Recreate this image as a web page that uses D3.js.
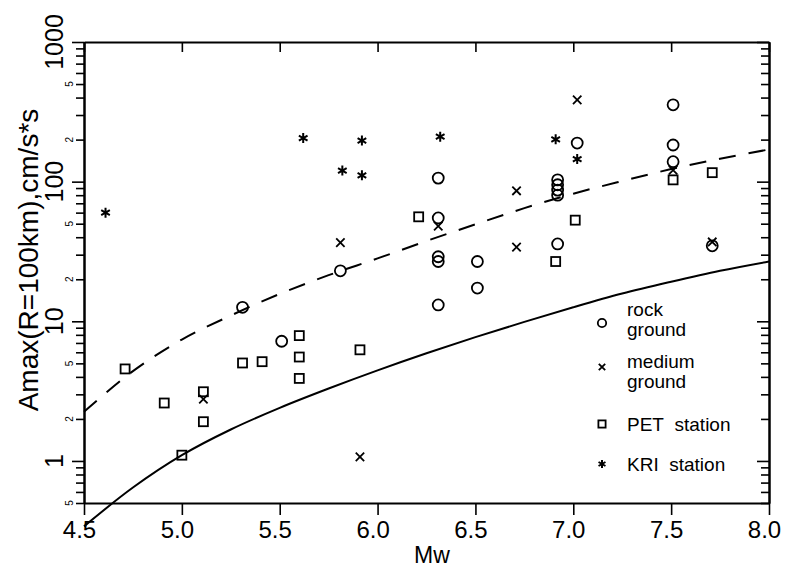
<!DOCTYPE html>
<html>
<head>
<meta charset="utf-8">
<script src="https://cdn.jsdelivr.net/npm/d3@7"></script>
<style>
  body { margin: 0; background: #fff; }
  text { font-family: "Liberation Sans", Arial, sans-serif; fill: #000; }
</style>
</head>
<body>
<div id="chart"></div>
<script>
const width = 786;
const height = 569;

// Data: [Mw, Amax]
const rockGround = [
  [5.31, 12.6], [5.51, 7.2], [5.81, 23], [6.31, 106], [6.31, 55], [6.31, 29], [6.31, 26.8],
  [6.31, 13.1], [6.51, 26.8], [6.51, 17.3], [6.92, 103], [6.92, 95], [6.92, 87], [6.92, 80],
  [6.92, 35.8], [7.02, 189], [7.51, 355], [7.51, 183], [7.51, 139], [7.71, 34.7]
];
const mediumGround = [
  [5.11, 2.77], [5.81, 36.6], [5.91, 1.07], [6.31, 48], [6.71, 86], [6.71, 34],
  [7.02, 385], [7.51, 121], [7.71, 37]
];
const petStation = [
  [4.71, 4.56], [4.91, 2.6], [5.0, 1.1], [5.11, 3.13], [5.11, 1.91], [5.31, 5.03],
  [5.41, 5.14], [5.6, 7.9], [5.6, 5.55], [5.6, 3.9], [5.91, 6.25], [6.21, 56],
  [6.91, 26.8], [7.01, 53], [7.51, 103], [7.71, 116]
];
const kriStation = [
  [4.61, 60], [5.62, 205], [5.82, 120], [5.92, 197], [5.92, 111], [6.32, 210],
  [6.91, 201], [7.02, 145]
];

// the two attenuation curves
const curveMw = [4.5, 4.75, 5.0, 5.25, 5.5, 5.75, 6.0, 6.25, 6.5, 6.75, 7.0, 7.25, 7.5, 7.75, 8.0];
const dashedA = [2.25, 4.4, 7.4, 11.0, 15.7, 21.4, 28.2, 37.6, 49.5, 64.6, 82, 101, 123, 146, 170];
const solidA = [0.34, 0.645, 1.1, 1.68, 2.4, 3.3, 4.45, 5.9, 7.7, 9.9, 12.6, 15.8, 19.2, 23.0, 26.8];

const xTicks = [4.5, 5.0, 5.5, 6.0, 6.5, 7.0, 7.5, 8.0];
const yMajor = [1, 10, 100, 1000];
const yMinor = [0.5, 0.6, 0.7, 0.8, 0.9, 2, 3, 4, 5, 6, 7, 8, 9, 20, 30, 40, 50, 60, 70, 80, 90,
  200, 300, 400, 500, 600, 700, 800, 900];
const yMinorLabels = [0.5, 2, 5, 20, 50, 200, 500];

const plotLeft = 84, plotRight = 769, plotTop = 42, plotBottom = 503;

const svg = d3.select("#chart").append("svg")
    .attr("width", width)
    .attr("height", height);

const x = d3.scaleLinear().domain([4.5, 8.0]).range([plotLeft, plotRight]);
const y = d3.scaleLog().domain([0.5, 1000]).range([plotBottom, plotTop]);

// axes
function styleAxis(g) {
  g.select(".domain").attr("stroke", "#000").attr("stroke-width", 2);
  g.selectAll(".tick line").attr("stroke", "#000").attr("stroke-width", 1.6);
}

svg.append("g").attr("transform", `translate(${plotLeft},0)`)
    .call(d3.axisLeft(y).tickValues(yMinor).tickSize(8).tickSizeOuter(0).tickFormat(""))
    .call(styleAxis);
svg.append("g").attr("transform", `translate(${plotLeft},0)`)
    .call(d3.axisLeft(y).tickValues(yMajor).tickSize(12).tickSizeOuter(0).tickFormat(""))
    .call(styleAxis);
svg.append("g").attr("transform", `translate(${plotRight},0)`)
    .call(d3.axisLeft(y).tickValues(yMinor).tickSize(8).tickSizeOuter(0).tickFormat(""))
    .call(styleAxis);
svg.append("g").attr("transform", `translate(${plotRight},0)`)
    .call(d3.axisLeft(y).tickValues(yMajor).tickSize(12).tickSizeOuter(0).tickFormat(""))
    .call(styleAxis);
svg.append("g").attr("transform", `translate(0,${plotTop})`)
    .call(d3.axisBottom(x).tickValues(xTicks).tickSize(10).tickSizeOuter(0).tickFormat(""))
    .call(styleAxis);

const xAxis = svg.append("g").attr("transform", `translate(0,${plotBottom})`)
    .call(d3.axisBottom(x).tickValues(xTicks).tickSize(12).tickSizeOuter(0)
      .tickPadding(6).tickFormat(d3.format(".1f")))
    .call(styleAxis);
xAxis.selectAll("text")
    .attr("font-size", 24)
    .attr("dx", -5)
    .attr("fill", "#000")
    .style("font-family", "'Liberation Sans', Arial, sans-serif");

// y tick labels (rotated)
svg.selectAll(".ymaj-label")
  .data(yMajor)
  .enter().append("text")
    .attr("class", "ymaj-label")
    .attr("transform", d => `translate(63,${y(d)}) rotate(-90)`)
    .attr("text-anchor", "middle")
    .attr("font-size", 25)
    .text(d => d);

svg.selectAll(".ymin-label")
  .data(yMinorLabels)
  .enter().append("text")
    .attr("class", "ymin-label")
    .attr("transform", d => `translate(73,${y(d)}) rotate(-90)`)
    .attr("text-anchor", "middle")
    .attr("font-size", 10)
    .text(d => String(d).replace("0.", "").replace(/0+$/, ""));

// axis titles
svg.append("text")
    .attr("transform", "translate(38,260) rotate(-90)")
    .attr("text-anchor", "middle")
    .attr("font-size", 28)
    .text("Amax(R=100km),cm/s*s");

svg.append("text")
    .attr("x", 432)
    .attr("y", 563)
    .attr("text-anchor", "middle")
    .attr("font-size", 23)
    .text("Mw");

// curves
const line = d3.line()
    .x((d, i) => x(curveMw[i]))
    .y(d => y(d))
    .curve(d3.curveCatmullRom.alpha(0.5));

svg.append("path")
    .attr("d", line(dashedA))
    .attr("fill", "none")
    .attr("stroke", "#000")
    .attr("stroke-width", 2)
    .attr("stroke-dasharray", "17,13");

svg.append("path")
    .attr("d", line(solidA))
    .attr("fill", "none")
    .attr("stroke", "#000")
    .attr("stroke-width", 2);

// marker drawers
function drawCircle(g, r) {
  g.append("circle").attr("r", r).attr("fill", "none").attr("stroke", "#000").attr("stroke-width", 1.8);
}
function drawCross(g, s) {
  g.append("path").attr("d", `M${-s},${-s}L${s},${s}M${-s},${s}L${s},${-s}`)
    .attr("stroke", "#000").attr("stroke-width", 1.8);
}
function drawSquare(g, s) {
  g.append("rect").attr("x", -s).attr("y", -s).attr("width", 2 * s).attr("height", 2 * s)
    .attr("fill", "none").attr("stroke", "#000").attr("stroke-width", 1.8);
}
function drawStar(g, s) {
  const a = s * Math.cos(Math.PI / 6), b = s * Math.sin(Math.PI / 6);
  g.append("path").attr("d", `M0,${-s}L0,${s}M${-a},${-b}L${a},${b}M${-a},${b}L${a},${-b}`)
    .attr("stroke", "#000").attr("stroke-width", 2);
}

function plotSeries(data, drawer, size) {
  svg.append("g").selectAll("g")
    .data(data)
    .enter().append("g")
      .attr("transform", d => `translate(${x(d[0])},${y(d[1])})`)
      .each(function() { drawer(d3.select(this), size); });
}

plotSeries(petStation, drawSquare, 4.5);
plotSeries(mediumGround, drawCross, 4.2);
plotSeries(rockGround, drawCircle, 5.5);
plotSeries(kriStation, drawStar, 5);

// legend
const legend = svg.append("g");
drawCircle(legend.append("g").attr("transform", "translate(602,323)"), 4.2);
drawCross(legend.append("g").attr("transform", "translate(602,367)"), 3.2);
drawSquare(legend.append("g").attr("transform", "translate(602,424)"), 3.6);
drawStar(legend.append("g").attr("transform", "translate(602,464)"), 4);

// two-line entries are one text with tspans
const legendLabels = [
  { lines: ["rock", "ground"], y: 316 },
  { lines: ["medium", "ground"], y: 368 },
  { lines: ["PET\u00a0\u00a0station"], y: 431 },
  { lines: ["KRI\u00a0\u00a0station"], y: 471 }
];
legend.selectAll("text.lg")
  .data(legendLabels)
  .enter().append("text")
    .attr("class", "lg")
    .attr("x", 627)
    .attr("y", d => d.y)
    .attr("font-size", 19)
    .each(function(d) {
      d3.select(this).selectAll("tspan")
        .data(d.lines)
        .enter().append("tspan")
          .attr("x", 627)
          .attr("dy", (t, i) => i === 0 ? 0 : 20)
          .text(t => t);
    });
</script>
</body>
</html>
